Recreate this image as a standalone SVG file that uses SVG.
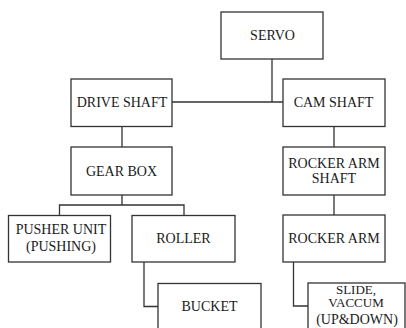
<svg xmlns="http://www.w3.org/2000/svg" width="406" height="328" viewBox="0 0 406 328">
<style>
.box{fill:#fff;stroke:#333;stroke-width:1.3}
.lbl{font-size:14px;fill:#1a1a1a;text-anchor:middle}
.sm{font-size:13px}
.con{fill:none;stroke:#333;stroke-width:1.3}
</style>
<rect width="406" height="328" fill="#fff"/>
<g id="connectors">
<path class="con" d="M272 59V102M172 102H283"/>
<path class="con" d="M122 126.5V147"/>
<path class="con" d="M122 195V205M59.5 215.5V205H184V215.5"/>
<path class="con" d="M144 262V306.5H158"/>
<path class="con" d="M334 126.5V147"/>
<path class="con" d="M334 195V215"/>
<path class="con" d="M293.5 262V306H308"/>
</g>
<g font-family="Liberation Serif, serif">
<g id="servo"><rect class="box" x="221" y="12" width="102" height="47"/><text class="lbl" x="272.5" y="40">SERVO</text></g>
<g id="drive-shaft"><rect class="box" x="71" y="79" width="101" height="47.5"/><text class="lbl" x="122" y="107">DRIVE SHAFT</text></g>
<g id="cam-shaft"><rect class="box" x="283" y="79" width="102" height="47.5"/><text class="lbl" x="333.5" y="107">CAM SHAFT</text></g>
<g id="gear-box"><rect class="box" x="71" y="147" width="101" height="48"/><text class="lbl" x="121.5" y="176">GEAR BOX</text></g>
<g id="rocker-arm-shaft"><rect class="box" x="283" y="147" width="102" height="48"/><text class="lbl" x="334" y="167.5">ROCKER ARM</text><text class="lbl" x="334" y="182.5">SHAFT</text></g>
<g id="pusher-unit"><rect class="box" x="8.5" y="215.5" width="102" height="46.5"/><text class="lbl" x="61" y="233.5">PUSHER UNIT</text><text class="lbl" x="61" y="251">(PUSHING)</text></g>
<g id="roller"><rect class="box" x="132" y="215.5" width="103" height="46.5"/><text class="lbl" x="183.5" y="243">ROLLER</text></g>
<g id="rocker-arm"><rect class="box" x="283" y="215" width="102" height="47"/><text class="lbl" x="334" y="243">ROCKER ARM</text></g>
<g id="bucket"><rect class="box" x="158" y="283.5" width="103" height="50"/><text class="lbl" x="209.5" y="311">BUCKET</text></g>
<g id="slide-vaccum"><rect class="box" x="308" y="283" width="97" height="50"/><text class="lbl sm" x="356" y="293.5">SLIDE,</text><text class="lbl sm" x="356" y="307">VACCUM</text><text class="lbl" x="357" y="324">(UP&amp;DOWN)</text></g>
</g>
</svg>
